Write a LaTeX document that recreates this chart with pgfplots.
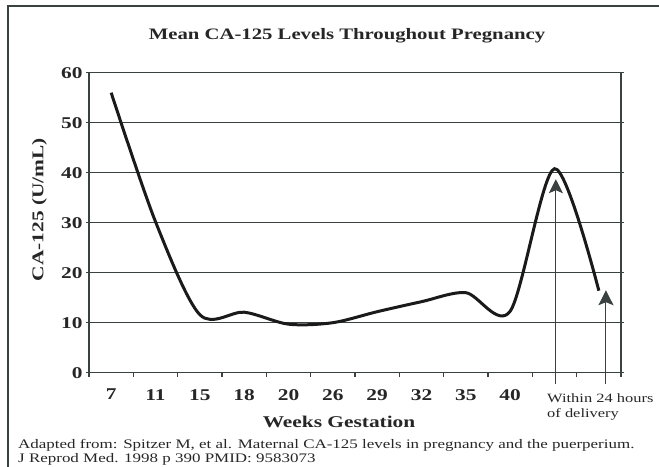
\documentclass[border=0pt]{standalone}
\usepackage{fontspec}
\setmainfont{Liberation Serif}[FakeStretch=1.3]
\usepackage{pgfplots}
\pgfplotsset{compat=1.18}
\usetikzlibrary{arrows.meta}
\definecolor{axgray}{HTML}{3A4141}
\definecolor{curvecol}{HTML}{1A1A1A}

\begin{document}
\begin{tikzpicture}[x=1bp,y=1bp]
\useasboundingbox (0,0) rectangle (659,467);
\draw[axgray, line width=2bp] (7.5,-3) -- (7.5,461) -- (665,461);
\node[font=\bfseries\fontsize{16}{19}\selectfont, anchor=base, text=black!85] at (347,427) {Mean CA-125 Levels Throughout Pregnancy};
\begin{axis}[
  at={(89bp,94.3bp)}, anchor=south west,
  scale only axis, width=532bp, height=300bp,
  xmin=-0.5, xmax=11.5, ymin=0, ymax=60,
  clip=false,
  ytick={0,10,...,60},
  xtick={0,...,9},
  xticklabels={7,11,15,18,20,26,29,32,35,40},
  minor xtick={-0.5,0.5,...,11.5},
  tick align=outside,
  xtick pos=lower, ytick pos=both,
  major tick length=3bp, minor tick length=4bp,
  major x tick style={draw=none},
  minor x tick style={axgray, line width=1.2bp},
  major y tick style={axgray, line width=1.2bp},
  ymajorgrids,
  grid style={axgray, line width=1.3bp},
  axis line style={axgray, line width=1.3bp},
  /pgf/number format/assume math mode=true,
  tick label style={font=\bfseries\fontsize{16.5}{16.5}\selectfont, text=black!85},
  xticklabel style={yshift=-10bp},
  xlabel={Weeks Gestation},
  xlabel style={at={(rel axis cs:0.47,-0.183)}, anchor=base, font=\bfseries\fontsize{16.5}{16.5}\selectfont, text=black!85},
  ylabel={CA-125 (U/mL)},
  ylabel style={at={(rel axis cs:-0.0934,0.544)}, anchor=center, font=\bfseries\fontsize{16.5}{16.5}\selectfont, text=black!85},
]
\addplot[smooth, line width=3bp, color=curvecol] coordinates {
  (0,56) (1,30.2) (2,11.6) (3,12.1) (4,9.7) (5,10.0) (6,12.2)
  (7,14.2) (8,16.0) (9,12.3) (10,40.8) (11,16.4)
};
\addplot[line width=1.1bp, color=axgray, -{Stealth[length=14bp,width=14bp,inset=3bp]}] coordinates {(10.03,-2.3) (10.03,38.7)};
\addplot[line width=1.1bp, color=axgray, -{Stealth[length=15bp,width=15bp,inset=3bp]}] coordinates {(11.16,-2.3) (11.16,16.5)};
\end{axis}
\node[anchor=base west, font=\fontsize{12.7}{15}\selectfont, text=black!85, inner sep=0pt] at (547,64) {Within 24 hours};
\node[anchor=base west, font=\fontsize{12.7}{15}\selectfont, text=black!85, inner sep=0pt] at (547,49) {of delivery};
\node[anchor=base west, font=\fontsize{13.1}{14}\selectfont, text=black!85, inner sep=0pt] at (18,18) {Adapted from: Spitzer M, et al. Maternal CA-125 levels in pregnancy and the puerperium.};
\node[anchor=base west, font=\fontsize{13.1}{14}\selectfont, text=black!85, inner sep=0pt] at (18,4) {J Reprod Med. 1998 p 390 PMID: 9583073};
\end{tikzpicture}
\end{document}
